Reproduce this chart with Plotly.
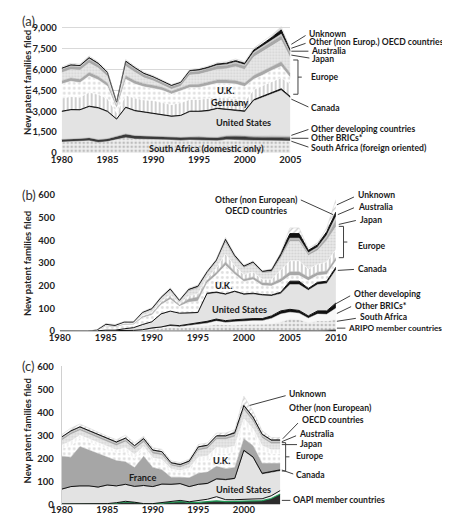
import plotly.graph_objects as go

W, H = 450, 515
FONT = "Lato"

# ---------------- Panel (a) data: 1980-2005 ----------------
years_a = list(range(1980, 2006))
a_sa_domestic = [780,800,830,880,760,820,960,1100,1000,1000,980,950,930,900,930,930,890,880,950,960,920,900,900,900,890,860]
a_sa_foreign = [180,180,190,200,190,190,220,250,230,220,210,200,200,200,200,200,200,190,210,220,220,200,190,200,200,190]
a_other_brics = [20,20,20,20,20,20,20,20,20,20,25,25,30,30,35,40,40,50,60,60,70,70,80,80,90,90]
a_other_dev = [20,20,20,20,20,20,20,20,20,20,25,25,30,30,35,40,40,50,50,60,60,70,80,90,100,100]
a_us = [1950,2050,2000,2180,2210,1900,1180,1840,1730,1640,1610,1500,1410,1490,1750,1740,1830,1980,1830,1750,1680,2510,2750,2980,3220,2710]
a_canada = [50,50,50,60,60,50,40,60,50,50,50,50,50,50,50,50,60,60,60,60,70,80,90,100,110,100]
a_germany = [940,930,890,1000,940,900,450,840,900,850,870,850,820,900,850,840,840,790,790,790,680,720,760,800,800,900]
a_uk = [1010,1100,1050,1170,1050,900,350,1170,1000,950,870,900,760,850,850,870,950,1000,1050,1050,1080,750,750,800,820,460]
a_france = [230,240,240,260,250,230,120,250,240,230,220,220,210,210,220,230,240,250,250,250,250,270,290,300,320,300]
a_other_europe = [590,610,660,680,600,470,150,680,610,420,320,180,140,140,680,710,710,750,800,1000,970,1330,1410,1450,1560,1110]
a_japan = [220,230,230,250,240,220,80,250,230,220,210,200,190,190,210,220,230,240,240,250,250,270,290,300,320,300]
a_australia = [60,60,60,70,60,50,40,60,60,60,50,50,50,50,60,60,60,70,70,80,80,90,100,110,120,100]
a_other_oecd = [40,40,40,60,40,30,30,60,40,40,40,40,40,40,60,60,70,80,90,100,110,130,160,200,300,150]
a_unknown = [100,110,110,120,100,90,40,110,100,90,80,70,60,60,80,80,90,100,110,120,120,140,160,180,220,150]

# ---------------- Panel (b) data: 1980-2010 ----------------
years_b = list(range(1980, 2011))
b_aripo = [0,0,0,0,0,0,0,0,0,0,1,1,1,1,1,1,1,2,2,2,2,2,2,2,2,3,3,3,3,4,6]
b_south_africa = [0,0,0,0,0,0,0,2,3,4,7,9,15,13,15,18,22,27,24,24,28,28,27,29,38,50,48,34,42,40,45]
b_other_brics = [0,0,0,0,0,0,0,0,0,1,3,4,6,5,8,10,12,15,12,15,15,16,17,25,35,30,28,20,30,30,50]
b_other_dev = [0,0,0,0,0,0,0,0,0,1,3,4,5,5,6,7,8,9,8,9,9,9,9,11,14,13,12,10,14,15,23]
b_us = [0,0,0,0,1,4,4,8,12,22,26,56,59,53,50,44,120,115,114,122,106,108,102,88,76,109,114,113,116,121,146]
b_canada = [0,0,0,0,0,0,0,0,0,1,1,2,2,2,2,2,4,4,4,4,4,4,4,4,6,15,15,8,10,10,12]
b_uk = [0,0,0,0,2,18,14,18,14,30,30,40,52,30,45,50,45,75,126,75,55,60,40,40,45,25,25,35,30,30,28]
b_france = [0,0,0,0,0,2,2,3,3,5,6,8,10,6,15,18,12,12,15,12,10,12,12,12,15,17,17,15,15,15,15]
b_germany = [0,0,0,0,0,2,2,3,2,5,5,6,10,6,12,14,10,18,35,25,20,22,15,18,40,48,48,35,35,40,35]
b_other_europe = [0,0,0,0,1,4,3,5,5,10,12,14,18,10,22,25,20,28,50,35,30,35,28,30,50,85,85,60,60,95,100]
b_japan = [0,0,0,0,0,0,0,1,1,2,2,2,3,2,3,3,3,3,5,4,3,3,3,3,5,10,10,8,10,15,30]
b_australia = [0,0,0,0,0,0,0,0,0,1,1,1,2,1,2,2,2,2,5,3,2,3,2,2,3,5,5,5,5,8,15]
b_other_oecd = [0,0,0,0,0,0,0,0,0,1,2,2,3,2,3,4,3,3,5,4,3,3,3,6,12,20,20,10,10,15,20]
b_unknown = [0,0,0,0,1,4,4,3,3,3,4,4,5,3,5,5,5,4,8,5,4,5,3,4,5,25,25,9,10,17,55]

# ---------------- Panel (c) data: 1980-2004 ----------------
years_c = list(range(1980, 2005))
c_oapi = [2,2,2,2,3,3,5,10,7,3,3,5,8,12,8,8,12,15,12,14,15,15,16,25,45]
c_other_dev = [0,0,0,0,0,0,2,3,2,0,0,2,3,5,3,8,10,18,8,6,8,8,8,12,15]
c_us = [62,73,76,76,70,79,71,72,67,77,72,79,74,71,64,69,66,75,85,90,208,179,107,101,85]
c_canada = [2,2,2,2,2,2,2,2,2,2,2,2,2,2,2,2,3,3,3,3,4,4,4,4,5]
c_france = [143,128,171,155,145,121,110,98,82,127,83,62,31,28,38,48,49,54,47,47,50,49,43,36,28]
c_uk = [34,49,35,35,34,33,33,44,40,30,30,32,25,21,30,50,50,58,64,67,62,52,55,42,42]
c_germany = [14,20,14,14,14,13,13,17,16,12,12,12,10,8,12,20,20,24,25,27,25,21,22,17,17]
c_other_europe = [20,29,21,21,20,19,19,26,23,19,18,19,15,13,18,29,31,35,38,40,38,32,33,26,26]
c_japan = [8,8,8,8,8,8,8,8,8,8,8,8,6,6,6,8,8,8,8,8,10,10,8,8,8]
c_australia = [5,5,5,5,5,5,5,5,5,5,5,5,4,4,4,5,5,5,5,5,5,5,5,5,5]
c_other_oecd = [3,3,3,3,3,3,3,3,3,3,3,3,3,3,3,3,3,3,3,5,5,5,4,4,4]
c_unknown = [10,12,12,10,10,10,10,12,12,10,10,10,8,8,8,10,10,12,12,12,40,25,15,10,10]

# ---------------- styles ----------------
STY = {
    "dots":    dict(fill="#efefef", line="#efefef", pat=dict(shape=".", fgcolor="#8c8c8c", size=4, solidity=0.35)),
    "dark":    dict(fill="#3a3a3a", line="#3a3a3a"),
    "mid":     dict(fill="#8a8a8a", line="#8a8a8a"),
    "pale":    dict(fill="#cfcfcf", line="#cfcfcf"),
    "white":   dict(fill="#f7f7f7", line="#f7f7f7"),
    "us":      dict(fill="#e3e3e3", line="#e3e3e3"),
    "black":   dict(fill="#111111", line="#111111", w=1),
    "stripes": dict(fill="#ffffff", line="#ffffff", pat=dict(shape="|", fgcolor="#7a7a7a", size=4, solidity=0.35)),
    "lstripes":dict(fill="#ffffff", line="#ffffff", pat=dict(shape="|", fgcolor="#cfcfcf", size=4, solidity=0.3)),
    "ukdots":  dict(fill="#ffffff", line="#ffffff", pat=dict(shape=".", fgcolor="#bdbdbd", size=5, solidity=0.25)),
    "grey":    dict(fill="#a8a8a8", line="#a8a8a8"),
    "france":  dict(fill="#a6a6a6", line="#a6a6a6"),
    "lightdots": dict(fill="#e9e9e9", line="#e9e9e9", pat=dict(shape=".", fgcolor="#bcbcbc", size=3, solidity=0.4)),
    "aus":     dict(fill="#d6d6d6", line="#d6d6d6"),
    "hatch":   dict(fill="#ffffff", line="#d0d0d0", pat=dict(shape="/", fgcolor="#9a9a9a", size=4, solidity=0.3)),
    "oapi":    dict(fill="#2c2c2c", line="#1f9a55", w=1.2),
    "devc":    dict(fill="#f4f4f4", line="#111111", w=1),
}

panel_a = [
    ("South Africa (domestic only)", a_sa_domestic, "dots"),
    ("South Africa (foreign oriented)", a_sa_foreign, "dark"),
    ("Other BRICs*", a_other_brics, "mid"),
    ("Other developing countries", a_other_dev, "pale"),
    ("United States", a_us, "us"),
    ("Canada", a_canada, "black"),
    ("Germany", a_germany, "stripes"),
    ("U.K.", a_uk, "ukdots"),
    ("France", a_france, "grey"),
    ("Other Europe", a_other_europe, "lightdots"),
    ("Japan", a_japan, "grey"),
    ("Australia", a_australia, "aus"),
    ("Other (non Europ.) OECD countries", a_other_oecd, "black"),
    ("Unknown", a_unknown, "hatch"),
]
panel_b = [
    ("ARIPO member countries", b_aripo, "dark"),
    ("South Africa", b_south_africa, "dots"),
    ("Other BRICs*", b_other_brics, "white"),
    ("Other developing", b_other_dev, "black"),
    ("United States", b_us, "us"),
    ("Canada", b_canada, "black"),
    ("U.K.", b_uk, "ukdots"),
    ("France", b_france, "grey"),
    ("Germany", b_germany, "stripes"),
    ("Other Europe", b_other_europe, "lightdots"),
    ("Japan", b_japan, "grey"),
    ("Australia", b_australia, "aus"),
    ("Other (non European) OECD countries", b_other_oecd, "black"),
    ("Unknown", b_unknown, "hatch"),
]
panel_c = [
    ("OAPI member countries", c_oapi, "oapi"),
    ("Other developing", c_other_dev, "devc"),
    ("United States", c_us, "us"),
    ("Canada", c_canada, "black"),
    ("France", c_france, "france"),
    ("U.K.", c_uk, "ukdots"),
    ("Germany", c_germany, "lstripes"),
    ("Other Europe", c_other_europe, "lightdots"),
    ("Japan", c_japan, "grey"),
    ("Australia", c_australia, "aus"),
    ("Other (non European) OECD countries", c_other_oecd, "black"),
    ("Unknown", c_unknown, "hatch"),
]

fig = go.Figure()

def add_panel(years, layers, xa, ya, grp):
    for name, vals, sk in layers:
        s = STY[sk]
        kw = {}
        if "pat" in s:
            p = dict(s["pat"])
            p["bgcolor"] = s["fill"]
            kw["fillpattern"] = p
        fig.add_trace(go.Scatter(
            x=years, y=vals, name=name, mode="lines", stackgroup=grp,
            line=dict(color=s["line"], width=s.get("w", 0.5)),
            fillcolor=s["fill"], xaxis=xa, yaxis=ya, showlegend=False,
            hoverinfo="skip", **kw))

add_panel(years_a, panel_a, "x", "y", "a")
add_panel(years_b, panel_b, "x2", "y2", "b")
add_panel(years_c, panel_c, "x3", "y3", "c")

def px(x): return x / W
def py(y): return 1 - y / H

tickfont = dict(family=FONT, size=9.5, color="#222222", weight="bold")

layout = dict(
    width=W, height=H, autosize=False,
    margin=dict(l=0, r=0, t=0, b=0),
    paper_bgcolor="white", plot_bgcolor="white",
    showlegend=False,
    xaxis=dict(domain=[px(45), px(286)], range=[1980, 2005], tickvals=[1980,1985,1990,1995,2000,2005],
               showgrid=False, zeroline=False, showline=False, ticks="",
               ticklabelstandoff=0, tickfont=tickfont, anchor="y"),
    yaxis=dict(domain=[py(142), py(142 - 9500 * 128 / 9000)], range=[0, 9500],
               tickvals=[0,1500,3000,4500,6000,7500,9000], tickformat=",", showgrid=True,
               gridcolor="#d9d9d9", gridwidth=1, zeroline=False, showline=False,
               ticks="outside", ticklen=2, tickcolor="rgba(0,0,0,0)",
               tickfont=tickfont, anchor="x"),
    xaxis2=dict(domain=[px(43), px(334)], range=[1980, 2010], tickvals=list(range(1980, 2011, 5)),
                showgrid=False, zeroline=False, showline=True, linecolor="#c8c8c8", linewidth=1,
                ticks="", ticklabelstandoff=-2, tickfont=tickfont, anchor="y2"),
    yaxis2=dict(domain=[py(324), py(185)], range=[0, 600], dtick=100, showgrid=False, zeroline=False,
                showline=False, ticks="outside", ticklen=2, tickcolor="rgba(0,0,0,0)",
                tickfont=tickfont, anchor="x2"),
    xaxis3=dict(domain=[px(45), px(275.4)], range=[1980, 2004], tickvals=list(range(1980, 2001, 5)),
                showgrid=False, zeroline=False, showline=True, linecolor="#c8c8c8", linewidth=1,
                ticks="", ticklabelstandoff=-4, tickfont=tickfont, anchor="y3"),
    yaxis3=dict(domain=[py(501), py(360)], range=[0, 600], dtick=100, showgrid=False, zeroline=False,
                showline=True, linecolor="#d0d0d0", linewidth=1, ticks="outside", ticklen=5,
                tickcolor="rgba(0,0,0,0)", tickfont=tickfont, anchor="x3"),
)
fig.update_layout(**layout)

annots = []
shapes = []
lblfont = dict(family=FONT, size=8.6, color="#1a1a1a", weight="bold")
smallfont = dict(family=FONT, size=8.2, color="#1a1a1a", weight="bold")
infont = dict(family=FONT, size=9.2, color="#1a1a1a", weight="bold")

def label(text, x, y, anchor="left", font=None, angle=0):
    annots.append(dict(text=text, x=px(x), y=py(y), xref="paper", yref="paper",
                       xanchor=anchor, yanchor="middle", showarrow=False,
                       font=font or lblfont, textangle=angle))

def seg(x0, y0, x1, y1, color="#404040", w=1):
    shapes.append(dict(type="line", xref="paper", yref="paper", x0=px(x0), y0=py(y0),
                       x1=px(x1), y1=py(y1), line=dict(color=color, width=w)))

def bracket(x, y0, y1, left, right):
    seg(x, y0, x, y1)
    seg(left, y0, x, y0)
    seg(left, y1, x, y1)
    seg(x, (y0 + y1) / 2, right, (y0 + y1) / 2)

# panel letters and axis titles
pfont = dict(family=FONT, size=13, color="#333333")
label("(a)", 1, 7, font=pfont)
label("(b)", 1, 185, font=pfont)
label("(c)", 1, 360, font=pfont)
tfont = dict(family=FONT, size=9.5, color="#222222", weight="bold")
label("New patent families filed", 9, 70, anchor="center", font=tfont, angle=-90)
label("New patent families filed", 9, 255, anchor="center", font=tfont, angle=-90)
label("New patent families filed", 9, 426, anchor="center", font=tfont, angle=-90)

# panel (a) right-side labels
label("Unknown", 303, 20); seg(302, 22, 287, 31)
label("Other (non Europ.) OECD countries", 303, 29); seg(302, 30, 287, 35)
label("Australia", 306, 38); seg(305, 38, 287, 38)
label("Japan", 307, 46); seg(306, 45, 287, 42)
bracket(294, 47, 82, 289, 298)
label("Europe", 306, 64)
label("Canada", 306, 96); seg(305, 95, 287, 87)
label("Other developing countries", 306, 117); seg(305, 118, 287, 124)
label("Other BRICs*", 306, 127); seg(305, 127, 287, 127)
label("South Africa (foreign oriented)", 306, 137); seg(305, 136, 287, 130)
# panel (a) inside labels
label("U.K.", 218, 78, anchor="center", font=infont)
label("Germany", 222, 90, anchor="center", font=infont)
label("United States", 237, 111, anchor="center", font=infont)
label("South Africa (domestic only)", 198, 137, anchor="center", font=infont)

# panel (b) labels
label("Other (non European)<br>OECD countries", 250, 196, anchor="center"); seg(297, 190, 331, 205)
label("Unknown", 355, 185); seg(353, 187, 335, 195)
label("Australia", 355, 197); seg(353, 198, 336, 205)
label("Japan", 357, 210); seg(355, 211, 337, 215)
bracket(342, 217, 249, 337, 346)
label("Europe", 355, 237)
label("Canada", 355, 261); seg(353, 261, 336, 262)
label("Other developing", 351, 286); seg(349, 288, 334, 296)
label("Other BRICs*", 352, 298); seg(350, 299, 335, 306)
label("South Africa", 357, 310); seg(355, 311, 335, 314)
label("ARIPO member countries", 345, 321, font=smallfont); seg(344, 321, 335, 321)
label("U.K.", 215, 277, anchor="center", font=infont)
label("United States", 232, 302, anchor="center", font=infont)

# panel (c) labels
label("Unknown", 282, 388); seg(281, 390, 243, 400)
label("Other (non European)", 282, 403)
label("OECD countries", 296, 415); seg(294, 418, 278, 434)
label("Australia", 293, 429); seg(292, 431, 277, 437)
label("Japan", 294, 439); seg(293, 440, 277, 440)
bracket(281, 438, 467, 277, 285)
label("Europe", 290, 452)
label("Canada", 290, 471); seg(289, 470, 277, 466)
label("OAPI member countries", 287, 497); seg(286, 497, 277, 497)
label("France", 130, 474, anchor="center", font=infont)
label("U.K.", 213, 456, anchor="center", font=infont)
label("United States", 237, 486, anchor="center", font=infont)

fig.update_layout(annotations=annots, shapes=shapes)
fig.write_html("out.html")
